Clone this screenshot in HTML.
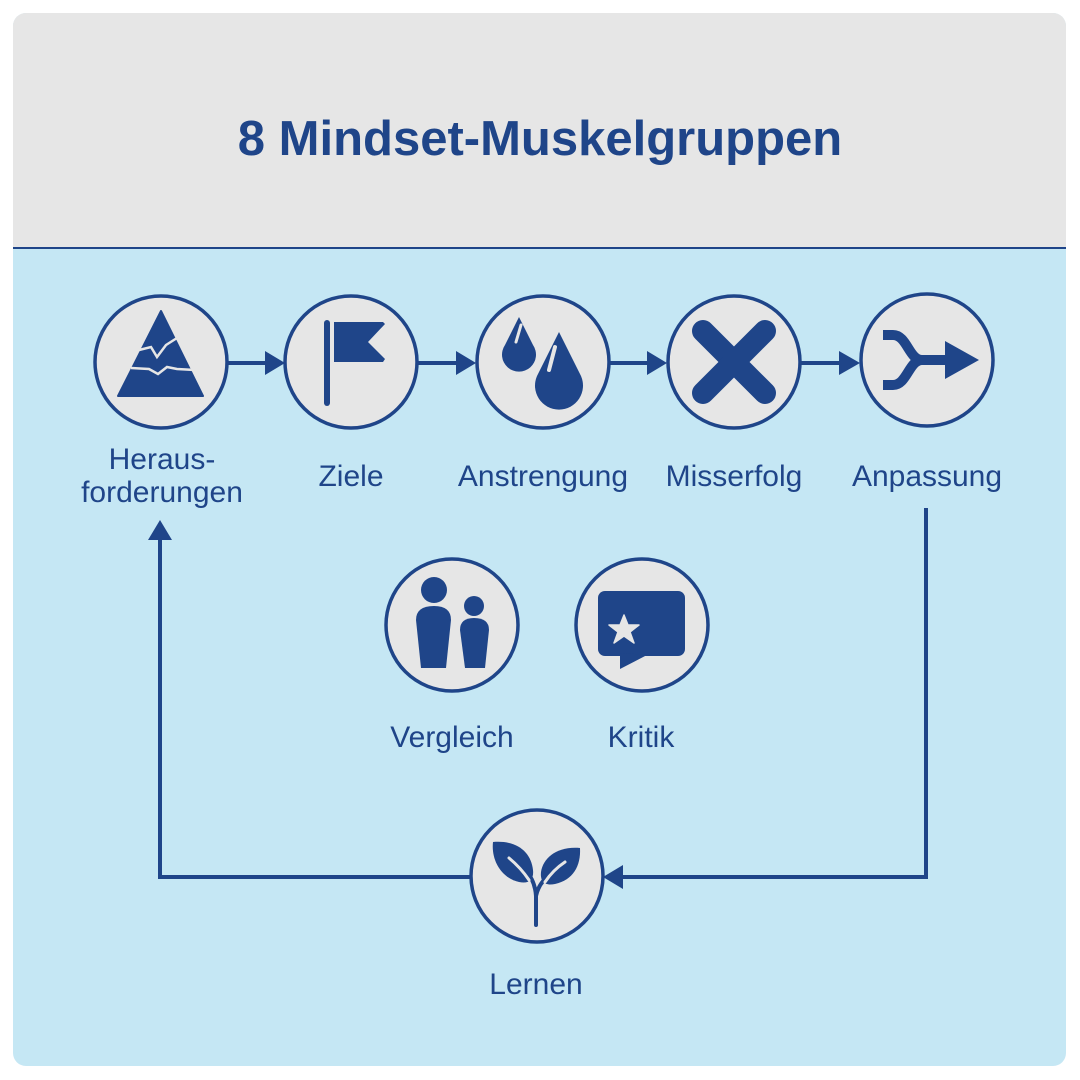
<!DOCTYPE html>
<html><head><style>
html,body{margin:0;padding:0;background:#fff;}
svg{display:block;}
text{font-family:"Liberation Sans",Arial,sans-serif;fill:#1f4589;}
</style></head><body>
<svg width="1080" height="1080" viewBox="0 0 1080 1080" xmlns="http://www.w3.org/2000/svg">
<defs><clipPath id="c"><rect x="13" y="13" width="1053" height="1053" rx="13"/></clipPath></defs>
<g clip-path="url(#c)">
<rect x="13" y="13" width="1053" height="1053" fill="#c5e7f4"/>
<rect x="13" y="13" width="1053" height="235" fill="#e6e6e6"/>
</g>
<line x1="13" y1="248" x2="1066" y2="248" stroke="#1f4589" stroke-width="2"/>
<text x="540" y="155" font-size="49" font-weight="bold" text-anchor="middle">8 Mindset-Muskelgruppen</text>

<g stroke="#1f4589" stroke-width="4" fill="none">
<line x1="228" y1="363" x2="268" y2="363"/>
<line x1="418" y1="363" x2="460" y2="363"/>
<line x1="610" y1="363" x2="651" y2="363"/>
<line x1="801" y1="363" x2="843" y2="363"/>
<polyline points="926,508 926,877 620,877"/>
<polyline points="470,877 160,877 160,537"/>
</g>
<g fill="#1f4589">
<polygon points="265,351 285,363 265,375"/>
<polygon points="456,351 476,363 456,375"/>
<polygon points="647,351 667,363 647,375"/>
<polygon points="839,351 860,363 839,375"/>
<polygon points="623,865 603,877 623,889"/>
<polygon points="148,540 160,520 172,540"/>
</g>

<g fill="#e6e6e6" stroke="#1f4589" stroke-width="3.5">
<circle cx="161" cy="362" r="66"/>
<circle cx="351" cy="362" r="66"/>
<circle cx="543" cy="362" r="66"/>
<circle cx="734" cy="362" r="66"/>
<circle cx="927" cy="360" r="66"/>
<circle cx="452" cy="625" r="66"/>
<circle cx="642" cy="625" r="66"/>
<circle cx="537" cy="876" r="66"/>
</g>

<!-- mountain -->
<g transform="translate(161,362)">
<polygon points="0,-51 42,34 -43,34" fill="#1f4589" stroke="#1f4589" stroke-width="2" stroke-linejoin="round"/>
<polyline points="-22,-12 -10,-15 -4,-5 5,-17 16,-24" stroke="#e6e6e6" stroke-width="2.5" fill="none"/>
<polyline points="-30,6 -12,7 -3,12 6,5 16,7 34,8" stroke="#e6e6e6" stroke-width="2.5" fill="none"/>
</g>
<!-- flag -->
<g transform="translate(351,362)" fill="#1f4589">
<rect x="-27" y="-42" width="6" height="86" rx="3"/>
<path d="M-17,-40 H32 L34,-38 L17,-20 L34,-3 L32,0 H-17 Z"/>
</g>
<!-- drops -->
<g transform="translate(543,362)" fill="#1f4589">
<path d="M-24,-45 L-38,-17 A17,17 0 1,0 -10,-17 Z"/>
<path d="M16,-30 L-6,14 A24,24 0 1,0 38,14 Z"/>
<path d="M-22,-37 L-27,-20" stroke="#e6e6e6" stroke-width="3" stroke-linecap="round"/>
<path d="M12,-15 L6,8" stroke="#e6e6e6" stroke-width="4" stroke-linecap="round"/>
</g>
<!-- X -->
<g transform="translate(734,362)" stroke="#1f4589" stroke-width="22" stroke-linecap="round">
<line x1="-31" y1="-31" x2="31" y2="31"/><line x1="31" y1="-31" x2="-31" y2="31"/>
</g>
<!-- merge -->
<g transform="translate(927,360)">
<path d="M-44,-25 H-34 C-20,-25 -18,0 -5,0 H22 M-44,25 H-34 C-20,25 -18,0 -5,0" stroke="#1f4589" stroke-width="10" fill="none"/>
<polygon points="18,-19 52,0 18,19" fill="#1f4589"/>
</g>
<!-- people -->
<g transform="translate(452,625)" fill="#1f4589">
<circle cx="-18" cy="-35" r="13"/>
<path d="M-36,-5 Q-36,-19 -18,-19 Q-1,-19 -1,-5 L-6,43 H-31 Z"/>
<circle cx="22" cy="-19" r="10"/>
<path d="M8,5 Q8,-7 22,-7 Q37,-7 37,5 L33,43 H13 Z"/>
</g>
<!-- bubble -->
<g transform="translate(642,625)">
<rect x="-44" y="-34" width="87" height="65" rx="7" fill="#1f4589"/>
<polygon points="-22,28 -22,44 5,30" fill="#1f4589"/>
<polygon points="-18,-10 -14,0 -3,0 -12,7 -8,18 -18,11 -28,18 -24,7 -33,0 -22,0" fill="#e6e6e6" stroke="#e6e6e6" stroke-width="1.5" stroke-linejoin="round"/>
</g>
<!-- plant -->
<g transform="translate(537,876)" fill="#1f4589">
<path d="M-44,-34 C-20,-36 -6,-24 -4,-6 C-3,4 -8,8 -18,6 C-36,2 -46,-16 -44,-34 Z"/>
<path d="M43,-28 C20,-30 6,-18 4,-4 C3,6 8,10 18,8 C36,4 44,-10 43,-28 Z"/>
<path d="M-1,49 V20 Q-2,4 -12,-6 M-1,20 Q2,6 14,-2" stroke="#1f4589" stroke-width="4" fill="none" stroke-linecap="round"/>
<path d="M-28,-18 Q-16,-8 -8,4 M28,-14 Q16,-6 8,6" stroke="#e6e6e6" stroke-width="3" fill="none" stroke-linecap="round"/>
</g>

<g font-size="30" text-anchor="middle">
<text x="162" y="469">Heraus-</text>
<text x="162" y="502">forderungen</text>
<text x="351" y="486">Ziele</text>
<text x="543" y="486">Anstrengung</text>
<text x="734" y="486">Misserfolg</text>
<text x="927" y="486">Anpassung</text>
<text x="452" y="747">Vergleich</text>
<text x="641" y="747">Kritik</text>
<text x="536" y="994">Lernen</text>
</g>
</svg>
</body></html>
